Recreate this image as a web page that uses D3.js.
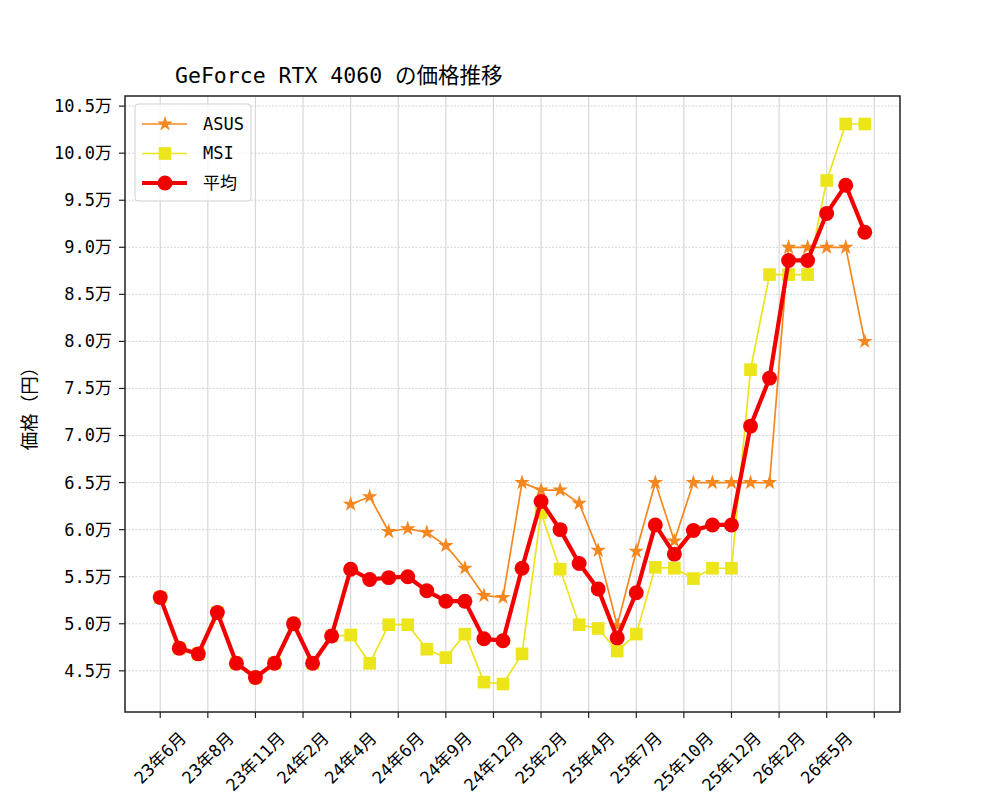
<!DOCTYPE html>
<html>
<head>
<meta charset="utf-8">
<script src="https://cdn.jsdelivr.net/npm/d3@7"></script>
<style>
  body { margin: 0; background: #fff; }
  svg text { font-family: "DejaVu Sans Mono", "Noto Sans CJK JP", monospace; fill: #000; }
</style>
</head>
<body>
<svg id="chart" width="1000" height="800"></svg>
<script>
'use strict';

/* x tick labels, one every 2.5 data points */
const tickLabels = ['23年6月', '23年8月', '23年11月', '24年2月', '24年4月', '24年6月',
  '24年9月', '24年12月', '25年2月', '25年4月', '25年7月', '25年10月', '25年12月',
  '26年2月', '26年5月', ''];

/* prices in yen, one entry per data point (null = no data) */
const asus = [null, null, null, null, null, null, null, null, null, null,
  62700, 63500, 59800, 60100, 59700, 58300, 55900, 53000, 52800, 65000,
  64200, 64200, 62800, 57800, 49800, 57700, 65000, 58800, 65000, 65000,
  65000, 65000, 65000, 90000, 90000, 90000, 90000, 80000];

const msi = [52800, 47400, 46800, 51200, 45800, 44300, 45800, 50000, 45800, 48700,
  48800, 45800, 49900, 49900, 47300, 46400, 48900, 43800, 43600, 46800,
  61800, 55800, 49900, 49500, 47100, 48900, 56000, 55900, 54800, 55900,
  55900, 77000, 87100, 87100, 87100, 97100, 103100, 103100];

const avg = [52800, 47400, 46800, 51200, 45800, 44300, 45800, 50000, 45800, 48700,
  55800, 54700, 54900, 55000, 53500, 52400, 52400, 48400, 48200, 55900,
  63000, 60000, 56400, 53700, 48500, 53300, 60500, 57400, 59900, 60500,
  60500, 71000, 76100, 88600, 88600, 93600, 96600, 91600];

const yTicks = [45000, 50000, 55000, 60000, 65000, 70000, 75000, 80000,
  85000, 90000, 95000, 100000, 105000];

const series = [
  { name: 'ASUS', values: asus, color: '#f4871f', width: 1.7, symbol: d3.symbolStar, size: 75 },
  { name: 'MSI', values: msi, color: '#ebe51a', width: 1.7, symbol: d3.symbolSquare, size: 160 },
  { name: '平均', values: avg, color: '#f20000', width: 4.2, symbol: d3.symbolCircle, size: 175 }
];

/* plot area */
const pLeft = 125, pRight = 900, pTop = 96, pBottom = 712;
const svg = d3.select('#chart');

/* scales with matplotlib style 5% margins */
const n = avg.length;
const xPad = (n - 1) * 0.05;
const x = d3.scaleLinear().domain([-xPad, n - 1 + xPad]).range([pLeft, pRight]);

const all = asus.concat(msi, avg).filter(function(v){ return v !== null; });
const yMin = d3.min(all), yMax = d3.max(all);
const yPad = (yMax - yMin) * 0.05;
const y = d3.scaleLinear().domain([yMin - yPad, yMax + yPad]).range([pBottom, pTop]);

const xTickVals = tickLabels.map(function(d, i){ return i * 2.5; });

/* grid */
const grid = svg.append('g');
grid.selectAll('line.vx')
  .data(xTickVals)
  .enter().append('line')
    .attr('x1', function(d){ return x(d); })
    .attr('x2', function(d){ return x(d); })
    .attr('y1', pTop).attr('y2', pBottom)
    .attr('stroke', '#d8d8d8')
    .attr('stroke-width', 1.2);
grid.selectAll('line.hy')
  .data(yTicks)
  .enter().append('line')
    .attr('x1', pLeft).attr('x2', pRight)
    .attr('y1', function(d){ return y(d); })
    .attr('y2', function(d){ return y(d); })
    .attr('stroke', '#cfcfcf')
    .attr('stroke-width', 0.9)
    .attr('stroke-dasharray', '2,1.5');

/* data lines and markers */
series.forEach(function(s){
  const pts = s.values.map(function(v, i){ return { i: i, v: v }; })
    .filter(function(p){ return p.v !== null; });
  const line = d3.line()
    .x(function(p){ return x(p.i); })
    .y(function(p){ return y(p.v); });
  svg.append('path')
    .datum(pts)
    .attr('d', line)
    .attr('fill', 'none')
    .attr('stroke', s.color)
    .attr('stroke-width', s.width)
    .attr('stroke-linejoin', 'round');
  const sym = d3.symbol().type(s.symbol).size(s.size);
  svg.append('g').selectAll('path')
    .data(pts)
    .enter().append('path')
      .attr('d', sym)
      .attr('transform', function(p){ return 'translate(' + x(p.i) + ',' + y(p.v) + ')'; })
      .attr('fill', s.color);
});

/* frame */
svg.append('rect')
  .attr('x', pLeft).attr('y', pTop)
  .attr('width', pRight - pLeft).attr('height', pBottom - pTop)
  .attr('fill', 'none')
  .attr('stroke', '#222')
  .attr('stroke-width', 1.5);

/* y axis ticks and labels */
const yAx = svg.append('g');
yAx.selectAll('line')
  .data(yTicks)
  .enter().append('line')
    .attr('x1', pLeft - 6).attr('x2', pLeft)
    .attr('y1', function(d){ return y(d); })
    .attr('y2', function(d){ return y(d); })
    .attr('stroke', '#222').attr('stroke-width', 1.2);
yAx.selectAll('text')
  .data(yTicks)
  .enter().append('text')
    .attr('x', pLeft - 13)
    .attr('y', function(d){ return y(d); })
    .attr('dy', '0.35em')
    .attr('text-anchor', 'end')
    .style('font-size', '17px')
    .text(function(d){ return (d / 10000).toFixed(1) + '万'; });

/* y label */
svg.append('text')
  .attr('transform', 'translate(30,' + ((pTop + pBottom) / 2) + ') rotate(-90)')
  .attr('text-anchor', 'middle')
  .attr('dy', '0.35em')
  .style('font-size', '18.5px')
  .text('価格（円）');

/* x axis ticks and rotated labels */
const xAx = svg.append('g');
xAx.selectAll('line')
  .data(xTickVals)
  .enter().append('line')
    .attr('x1', function(d){ return x(d); })
    .attr('x2', function(d){ return x(d); })
    .attr('y1', pBottom).attr('y2', pBottom + 6)
    .attr('stroke', '#222').attr('stroke-width', 1.2);
xAx.selectAll('text')
  .data(tickLabels)
  .enter().append('text')
    .attr('text-anchor', 'middle')
    .attr('dy', '0.35em')
    .style('font-size', '17px')
    .text(function(d){ return d; })
    .attr('transform', function(d, i){
      /* center the rotated box under the tick, top of box below the tick */
      const w = this.getComputedTextLength();
      const h = (w + 17) * Math.SQRT1_2;
      return 'translate(' + x(xTickVals[i]) + ',' + (pBottom + 17 + h / 2) + ') rotate(-45)';
    });

/* title */
svg.append('text')
  .attr('x', 175)
  .attr('y', 83)
  .style('font-size', '21.5px')
  .text('GeForce RTX 4060 の価格推移');

/* legend */
const lg = svg.append('g').attr('transform', 'translate(135,104)');
lg.append('rect')
  .attr('width', 116).attr('height', 97)
  .attr('rx', 3)
  .attr('fill', '#fff').attr('fill-opacity', 0.8)
  .attr('stroke', '#d0d0d0');
const rows = lg.selectAll('g.row')
  .data(series)
  .enter().append('g')
    .attr('transform', function(d, i){ return 'translate(0,' + (20 + i * 29.5) + ')'; });
rows.append('line')
  .attr('x1', 7).attr('x2', 52)
  .attr('stroke', function(d){ return d.color; })
  .attr('stroke-width', function(d){ return d.width; });
rows.append('path')
  .attr('d', function(d){ return d3.symbol().type(d.symbol).size(d.size)(); })
  .attr('transform', 'translate(30,0)')
  .attr('fill', function(d){ return d.color; });
rows.append('text')
  .attr('x', 68)
  .attr('dy', '0.35em')
  .style('font-size', '17px')
  .text(function(d){ return d.name; });
</script>
</body>
</html>
